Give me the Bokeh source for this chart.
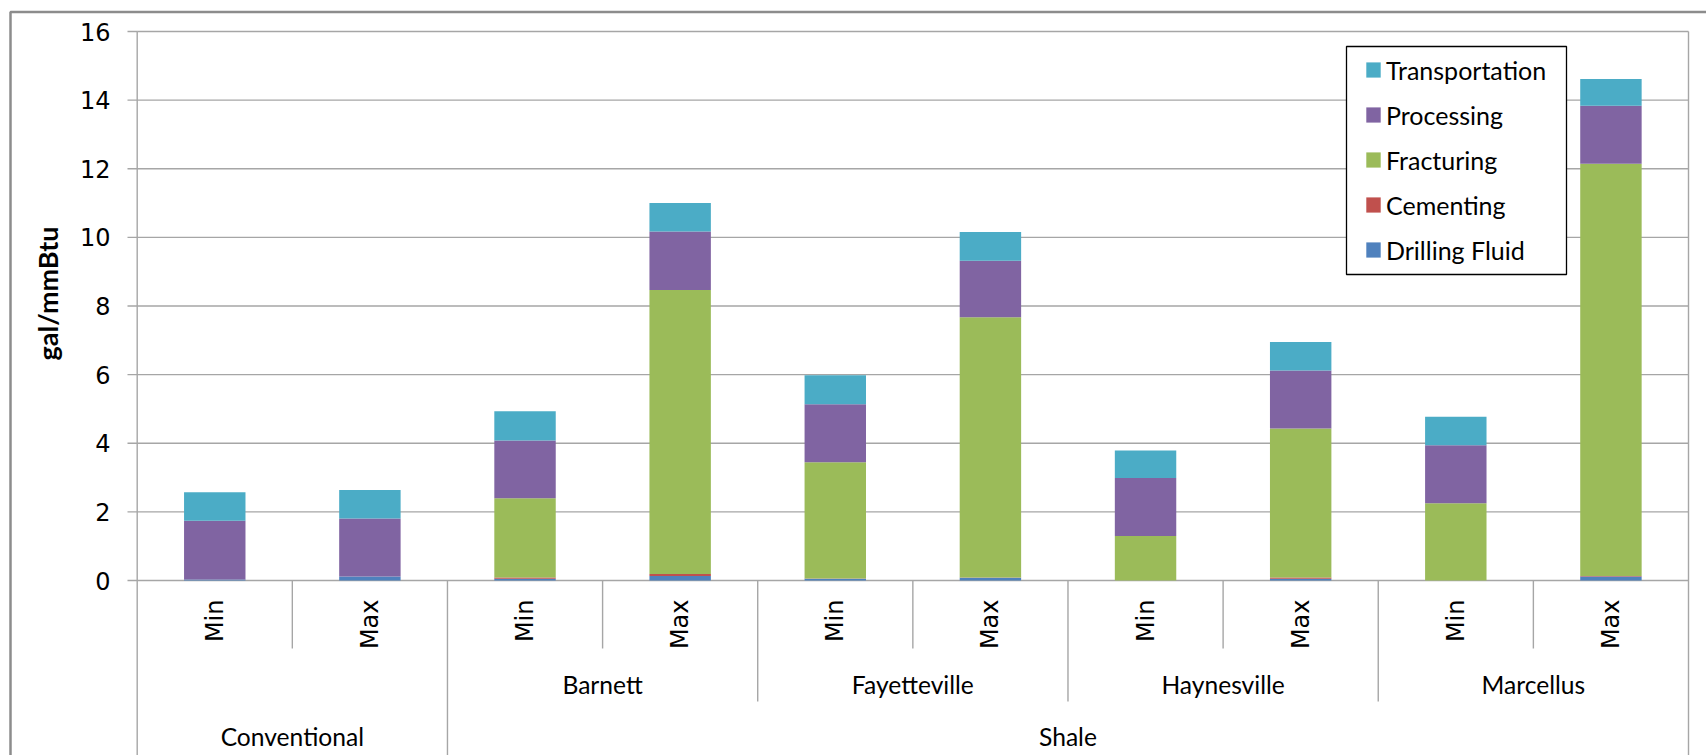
import math
from bokeh.plotting import figure
from bokeh.models import Range1d, ColumnDataSource, Legend, LegendItem
from bokeh.core.properties import value
from bokeh.embed import file_html
from bokeh.resources import INLINE

# ---- data -------------------------------------------------------------
groups = ["Conventional", "Conventional", "Shale", "Shale", "Shale",
          "Shale", "Shale", "Shale", "Shale", "Shale"]
plays = ["", "", "Barnett", "Barnett", "Fayetteville", "Fayetteville",
         "Haynesville", "Haynesville", "Marcellus", "Marcellus"]
levels = ["Min", "Max", "Min", "Max", "Min", "Max", "Min", "Max", "Min", "Max"]

drilling_fluid = [0.03, 0.12, 0.05, 0.13, 0.05, 0.08, 0.00, 0.05, 0.00, 0.12]
cementing      = [0.00, 0.00, 0.04, 0.06, 0.01, 0.01, 0.00, 0.04, 0.00, 0.01]
fracturing     = [0.00, 0.00, 2.31, 8.28, 3.39, 7.58, 1.30, 4.34, 2.25, 12.02]
processing     = [1.71, 1.69, 1.68, 1.70, 1.69, 1.65, 1.69, 1.69, 1.69, 1.69]
transportation = [0.83, 0.83, 0.85, 0.83, 0.84, 0.84, 0.80, 0.83, 0.83, 0.78]

series = ["Drilling Fluid", "Cementing", "Fracturing", "Processing", "Transportation"]
colors = ["#4F81BD", "#C0504D", "#9BBB59", "#8064A2", "#4BACC6"]

y_ticks = [0, 2, 4, 6, 8, 10, 12, 14, 16]
y_tick_labels = [str(t) for t in y_ticks]
y_title = "gal/mmBtu"

# ---- canvas geometry (pixels) -------------------------------------------
W, H = 1706, 755
X0_PX, CAT_PX = 136.7, 155.13      # left edge of plot area, width of one category
Y0_PX, UNIT_PX = 580.0, 34.31      # baseline of value axis, pixels per gal/mmBtu


def xd(px):
    return (px - X0_PX) / CAT_PX


def yd(py):
    return (Y0_PX - py) / UNIT_PX


p = figure(width=W, height=H, output_backend="svg", toolbar_location=None,
           x_axis_type=None, y_axis_type=None, min_border=0,
           x_range=Range1d(xd(0), xd(W)), y_range=Range1d(yd(H), yd(0)),
           outline_line_color=None, background_fill_color="white",
           border_fill_color="white")
p.title = None

n = len(levels)
x_centers = [i + 0.5 for i in range(n)]
ymax = y_ticks[-1]
grid_col = "#a6a6a6"

# outer chart border
p.line(x=[xd(10), xd(10), xd(W + 10)], y=[yd(H + 10), yd(11.5), yd(11.5)],
       line_color="#8c8c8c", line_width=2.5)

# horizontal gridlines and tick marks
p.segment(x0=[0] * len(y_ticks), x1=[n] * len(y_ticks), y0=y_ticks, y1=y_ticks,
          line_color=grid_col, line_width=1.4)
p.segment(x0=[xd(127)] * len(y_ticks), x1=[0] * len(y_ticks), y0=y_ticks, y1=y_ticks,
          line_color=grid_col, line_width=1.4)

# value axis line and right edge, running down through the category rows
p.segment(x0=[0, n], x1=[0, n], y0=[ymax, ymax], y1=[yd(H + 5), yd(H + 5)],
          line_color=grid_col, line_width=1.4)

# category separators: inner level, play level, group level
sep_x, sep_end = [], []
for i in range(1, n):
    if groups[i] != groups[i - 1]:
        sep_x.append(i); sep_end.append(yd(H + 5))
    elif plays[i] != plays[i - 1]:
        sep_x.append(i); sep_end.append(yd(701))
    else:
        sep_x.append(i); sep_end.append(yd(648))
p.segment(x0=sep_x, x1=sep_x, y0=[0] * len(sep_x), y1=sep_end,
          line_color=grid_col, line_width=1.4)

# stacked bars
data = {"x": x_centers}
for name, vals in zip(series, [drilling_fluid, cementing, fracturing, processing, transportation]):
    data[name] = vals
src = ColumnDataSource(data)
bars = p.vbar_stack(series, x="x", width=0.396, color=colors, line_color=None, source=src)

# value tick labels
p.text(x=[xd(110)] * len(y_ticks), y=y_ticks, text=y_tick_labels,
       text_font=value("DejaVu Sans"), text_font_size="24px", text_color="#000000",
       text_align="right", text_baseline="middle")

# inner category labels (rotated)
p.text(x=x_centers, y=[yd(599)] * n, text=levels, angle=math.pi / 2,
       text_font=value("DejaVu Sans"), text_font_size="24px", text_color="#000000",
       text_align="right", text_baseline="middle")


def spans(keys):
    out = []
    start = 0
    for i in range(1, n + 1):
        if i == n or keys[i] != keys[start]:
            out.append((keys[start], (start + i) / 2))
            start = i
    return out


play_spans = spans([g + "|" + pl for g, pl in zip(groups, plays)])
play_names = [k.split("|")[1] for k, c in play_spans if k.split("|")[1]]
play_x = [c for k, c in play_spans if k.split("|")[1]]
p.text(x=play_x, y=[yd(684)] * len(play_x), text=play_names,
       text_font=value("Lato"), text_font_size="24.6px", text_color="#000000",
       text_align="center", text_baseline="middle")

group_spans = spans(groups)
p.text(x=[c for k, c in group_spans], y=[yd(736)] * len(group_spans),
       text=[k for k, c in group_spans],
       text_font=value("Lato"), text_font_size="24.6px", text_color="#000000",
       text_align="center", text_baseline="middle")

# value axis title
p.text(x=[xd(47)], y=[yd(293)], text=[y_title], angle=math.pi / 2,
       text_font=value("Lato"), text_font_size="27px", text_font_style="bold",
       text_color="#000000", text_align="center", text_baseline="middle")

# legend frame
p.quad(left=[xd(1346)], right=[xd(1566)], top=[yd(46)], bottom=[yd(274)],
       fill_color="white", line_color="#000000", line_width=1.3)

items = [LegendItem(label=name, renderers=[r]) for name, r in zip(series, bars)][::-1]
legend = Legend(items=items, location=(1364, H - 272), padding=0, margin=0, spacing=0,
                label_height=45, glyph_height=19, glyph_width=18, label_standoff=4,
                label_text_font="Lato", label_text_font_size="25px",
                label_text_color="#000000", background_fill_alpha=0,
                border_line_color=None)
p.add_layout(legend)

open("out.html", "w").write(file_html(p, INLINE))
